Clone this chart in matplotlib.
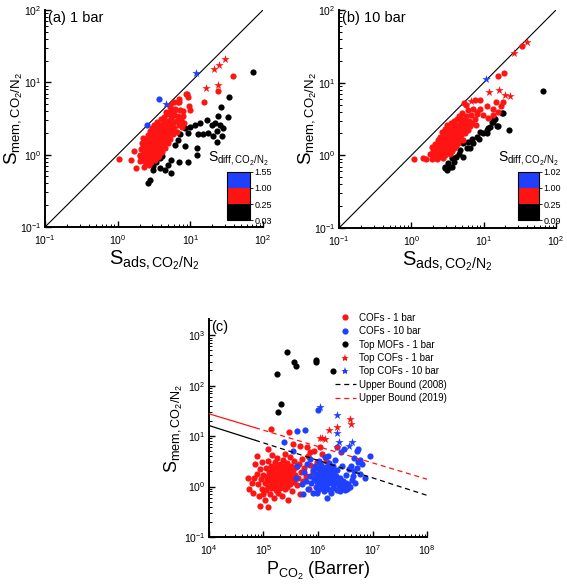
import numpy as np
import matplotlib
matplotlib.use('Agg')
from matplotlib import pyplot as plt
from matplotlib.colors import ListedColormap, BoundaryNorm
from matplotlib.cm import ScalarMappable
from matplotlib.lines import Line2D

plt.rcParams['font.family'] = ['Liberation Sans', 'DejaVu Sans']
plt.rcParams['mathtext.fontset'] = 'custom'
plt.rcParams['mathtext.rm'] = 'Liberation Sans'
plt.rcParams['mathtext.it'] = 'Liberation Sans:italic'
plt.rcParams['mathtext.default'] = 'regular'
plt.rcParams['axes.unicode_minus'] = False

RED = '#ff1414'
BLUE = '#2040ff'

# ---------------- panel (a): 1 bar, (S_ads, S_mem) ----------------
a_red = [
    (1.05, 0.86), (1.52, 0.85), (1.7, 1.12), (1.77, 0.65), (2.3, 0.68), (2.0, 0.95),
    (38.7, 12.1), (23.8, 7.7), (15.3, 5.3), (8.7, 6.8), (9.4, 6.3), (6.8, 5.4),
    (9.7, 4.7), (9.9, 4.2), (7.8, 4.0), (6.1, 4.15), (5.2, 4.5), (5.6, 3.5),
    (8.9, 6.8), (6.9, 5.4), (5.2, 4.9), (5.9, 5.3), (7.0, 5.9), (4.6, 3.85),
    (2.0, 0.82), (2.05, 1.0), (2.1, 1.2), (2.15, 1.45), (2.25, 1.7), (2.2, 0.9),
    (2.3, 1.1), (2.35, 1.3), (2.4, 0.78), (2.45, 1.0), (2.5, 1.55), (2.55, 1.2),
    (2.6, 0.85), (2.6, 1.85), (2.65, 1.05), (2.7, 1.35), (2.7, 0.72), (2.75, 1.6),
    (2.8, 0.95), (2.8, 2.1), (2.85, 1.15), (2.9, 1.4), (2.9, 0.8), (2.95, 1.75),
    (3.0, 1.0), (3.0, 2.3), (3.05, 1.25), (3.1, 0.9), (3.1, 1.55), (3.15, 1.95),
    (3.2, 1.1), (3.2, 2.6), (3.25, 1.35), (3.3, 0.85), (3.3, 1.7), (3.4, 1.0),
    (3.4, 2.1), (3.45, 1.25), (3.5, 1.5), (3.5, 2.8), (3.55, 0.92), (3.6, 1.8),
    (3.6, 1.15), (3.7, 2.4), (3.7, 1.35), (3.75, 1.05), (3.8, 1.6), (3.85, 2.0),
    (3.9, 3.1), (3.9, 1.25), (4.0, 1.45), (4.0, 2.6), (4.1, 1.1), (4.1, 1.9),
    (4.2, 2.2), (4.25, 1.35), (4.3, 3.3), (4.35, 1.65), (4.4, 2.8), (4.5, 1.25),
    (4.5, 2.0), (4.6, 2.45), (4.6, 1.5), (4.7, 3.6), (4.8, 1.8), (4.9, 2.25),
    (5.0, 1.45), (5.0, 2.9), (5.1, 2.0), (5.2, 3.9), (5.3, 1.65), (5.3, 2.5),
    (5.4, 3.2), (5.5, 2.1), (5.7, 2.7), (5.8, 1.9), (5.9, 3.5), (6.0, 2.3),
    (6.2, 4.3), (6.3, 2.9), (6.5, 2.05), (6.7, 3.4), (6.9, 2.6), (7.1, 4.1),
    (7.4, 3.0), (7.6, 2.45), (8.0, 3.4), (8.3, 2.7),
    (2.55, 1.4), (2.75, 1.25), (2.95, 1.1), (3.1, 1.4), (3.25, 1.6), (3.35, 1.2),
    (3.45, 1.8), (3.6, 1.45), (3.75, 1.7), (3.95, 1.55), (4.15, 1.75), (4.4, 1.9),
    (2.85, 1.55), (3.0, 1.7), (3.2, 1.9), (3.5, 2.0), (3.85, 2.25), (4.2, 2.4),
    (4.5, 2.7), (2.4, 1.15), (2.2, 1.3), (2.65, 1.7), (3.05, 2.05), (3.4, 2.4),
    (3.15, 0.95), (2.5, 0.9), (3.65, 1.0),
]
a_black = [
    (73, 13.8), (34, 6.2), (26, 4.5), (33, 3.3), (24, 3.4), (21.8, 2.7), (25.5, 2.6),
    (28, 2.3), (23, 2.1), (20.7, 1.8), (23, 1.5), (19.6, 2.6), (16.7, 3.0),
    (13.5, 2.7), (12.8, 1.9), (15, 1.9), (17.7, 2.0), (11.6, 2.6), (9.4, 2.0),
    (8.4, 2.3), (12.2, 1.23), (12.2, 0.99), (9.4, 0.8), (7.0, 0.8), (5.5, 0.85),
    (5.0, 0.72), (5.5, 0.55), (4.5, 0.61), (3.8, 0.65), (3.4, 0.8), (3.1, 0.61),
    (2.8, 0.45), (2.6, 0.4), (7.2, 1.9), (6.8, 1.6), (8.4, 1.3), (6.1, 1.36),
    (3.8, 0.89), (3.6, 1.1), (3.1, 0.7), (27, 1.8), (9.9, 2.4), (4.1, 0.95),
]
a_blue = [(2.52, 2.61), (3.73, 5.9)]
a_red_star = [(29.5, 20.7), (24.4, 17.1), (21, 15.2), (23.8, 9.2), (16.5, 8.3)]
a_blue_star = [(4.55, 4.94), (11.8, 13.3)]
a_sdiff_labels = ['0.03', '0.25', '1.00', '1.55']

# ---------------- panel (b): 10 bar ----------------
b_red = [
    (1.09, 0.88), (1.47, 0.91), (1.6, 0.9), (1.8, 1.05), (1.9, 0.88), (1.95, 1.3),
    (2.0, 1.15), (2.05, 0.95), (2.1, 1.45), (2.15, 1.05), (2.2, 1.25), (2.25, 0.9),
    (2.3, 1.6), (2.3, 1.1), (2.35, 1.35), (2.4, 0.95), (2.45, 1.2), (2.5, 1.8),
    (2.5, 1.5), (2.55, 1.05), (2.6, 1.3), (2.65, 2.1), (2.7, 0.92), (2.7, 1.6),
    (2.75, 1.15), (2.8, 1.4), (2.85, 1.85), (2.9, 1.0), (2.9, 2.3), (2.95, 1.25),
    (3.0, 1.55), (3.05, 1.1), (3.1, 2.0), (3.1, 1.35), (3.15, 2.6), (3.2, 1.7),
    (3.25, 1.2), (3.3, 1.45), (3.35, 2.2), (3.4, 1.05), (3.4, 1.9), (3.5, 1.3),
    (3.5, 2.8), (3.55, 1.6), (3.6, 2.35), (3.65, 1.15), (3.7, 1.75), (3.75, 2.05),
    (3.8, 1.4), (3.85, 3.0), (3.9, 1.25), (3.95, 1.9), (4.0, 2.5), (4.05, 1.55),
    (4.1, 2.2), (4.2, 1.35), (4.25, 3.2), (4.3, 1.8), (4.4, 2.6), (4.45, 1.5),
    (4.5, 2.1), (4.6, 3.5), (4.65, 1.7), (4.7, 2.4), (4.8, 2.9), (4.9, 1.9),
    (5.0, 2.2), (5.05, 3.8), (5.1, 1.65), (5.2, 2.6), (5.4, 5.3), (5.4, 3.1),
    (5.5, 2.0), (5.6, 2.4), (5.7, 3.5), (5.8, 2.8), (6.0, 2.2), (6.1, 4.2),
    (6.3, 3.0), (6.5, 2.5), (6.7, 3.6), (7.0, 2.8), (7.2, 4.4), (7.5, 3.2),
    (7.8, 2.6), (8.2, 3.7), (7.6, 5.8), (8.9, 5.8), (8.9, 4.4), (8.0, 4.0),
    (5.7, 4.9), (4.7, 3.4), (9.9, 3.6), (11, 4.7), (11.5, 3.3), (13.6, 4.3),
    (13.5, 3.6), (14.8, 5.5), (17.2, 4.7), (18.8, 5.5), (16, 3.9),
    (33.6, 31.8), (19.1, 13.4), (16, 12.4),
    (2.4, 1.4), (2.6, 1.7), (2.8, 1.2), (3.0, 1.9), (3.2, 1.45), (3.4, 1.6),
    (3.6, 1.9), (3.8, 2.2), (3.0, 1.1), (2.7, 1.3), (3.3, 1.8), (3.7, 1.45),
    (4.1, 1.75), (4.3, 2.35), (4.6, 2.0), (4.9, 2.6), (3.5, 2.1), (2.95, 1.7),
    (2.35, 1.05), (3.9, 2.7),
]
b_black = [
    (65.6, 7.65), (22.7, 2.2), (18.8, 3.8), (14.4, 3.2), (12.9, 2.9), (15.2, 2.5),
    (11.6, 2.35), (11.2, 2.2), (9.9, 2.0), (8.9, 2.1), (8.0, 1.8), (6.8, 1.7),
    (6.1, 1.54), (5.2, 1.46), (5.8, 1.25), (4.7, 1.18), (4.2, 0.96), (3.6, 0.91),
    (3.25, 0.78), (2.9, 0.7), (3.4, 0.7), (3.9, 0.82), (7.2, 1.46), (2.9, 0.66),
    (3.6, 0.7), (5.2, 0.96), (6.5, 1.25), (8.5, 1.66), (11, 2.0), (12.2, 2.43),
    (13.5, 2.9), (14, 3.3), (17.8, 3.8), (16, 2.5), (3.1, 0.62), (4.5, 1.05),
]
b_red_star = [(39.4, 36.6), (26.3, 25.8), (12.0, 7.4), (16.5, 7.9), (19.6, 6.7),
              (23.3, 6.5), (6.6, 5.6)]
b_blue_star = [(10.8, 11.1)]
b_sdiff_labels = ['0.09', '0.25', '1.00', '1.02']

# ---------------- panel (c): P_CO2 vs S_mem ----------------
# COFs at 1 bar, P in units of 1e5 Barrer
c_cof1 = [
    (0.53, 1.5), (0.55, 0.89), (0.7, 2.8), (0.75, 1.8), (0.75, 4.1), (1.0, 0.71),
    (0.86, 0.41), (1.22, 0.4), (1.4, 13.9), (2.9, 12.3), (1.23, 5.6), (3.5, 7.0),
    (4.7, 6.5), (6.2, 6.0), (7.1, 4.8), (11, 6.0),
    (0.62, 1.2), (0.65, 0.75), (0.68, 1.5), (0.8, 1.1), (0.82, 0.65), (0.85, 2.2),
    (0.9, 1.4), (0.92, 0.9), (0.95, 3.0), (1.0, 1.7), (1.05, 1.15), (1.05, 0.55),
    (1.1, 2.3), (1.1, 0.85), (1.15, 1.4), (1.2, 1.0), (1.2, 3.2), (1.25, 1.9),
    (1.3, 0.7), (1.3, 1.25), (1.35, 2.6), (1.4, 0.95), (1.4, 1.6), (1.45, 4.2),
    (1.5, 1.1), (1.5, 2.1), (1.55, 0.6), (1.6, 1.35), (1.6, 3.0), (1.65, 1.8),
    (1.7, 0.85), (1.7, 2.4), (1.75, 1.15), (1.8, 1.5), (1.8, 3.6), (1.85, 0.75),
    (1.9, 2.0), (1.95, 1.25), (2.0, 2.8), (2.0, 0.95), (2.05, 1.65), (2.1, 1.05),
    (2.15, 2.2), (2.2, 1.4), (2.2, 0.65), (2.25, 3.3), (2.3, 1.85), (2.35, 1.15),
    (2.4, 2.5), (2.45, 0.9), (2.5, 1.55), (2.5, 4.5), (2.6, 1.2), (2.6, 2.0),
    (2.7, 2.9), (2.75, 1.0), (2.8, 1.7), (2.85, 0.55), (2.9, 2.3), (2.95, 1.35),
    (3.0, 3.8), (3.1, 1.1), (3.1, 1.9), (3.2, 2.6), (3.3, 1.45), (3.4, 0.8),
    (3.5, 2.1), (3.6, 1.25), (3.7, 3.2), (3.8, 1.7), (4.0, 2.4), (4.1, 1.05),
    (4.3, 1.5), (4.5, 2.8), (4.6, 0.7), (4.8, 1.9), (5.0, 3.5), (5.3, 1.3),
    (5.6, 2.3), (6.0, 1.6), (6.5, 4.0), (6.8, 0.9), (7.2, 2.7), (8.0, 1.9),
    (8.5, 5.0), (9.5, 3.0), (10.5, 2.2), (12, 4.5), (14, 3.2), (16, 2.6),
    (1.3, 1.5), (1.5, 1.7), (1.7, 1.3), (1.9, 1.6), (2.1, 1.85), (2.3, 1.3),
    (2.5, 2.2), (1.6, 1.0), (2.0, 1.2), (2.4, 1.7), (1.8, 2.3), (2.7, 1.5),
    (1.4, 2.0), (3.0, 1.6), (1.2, 1.6), (2.2, 2.6),
]
# COFs at 10 bar, P in units of 1e6 Barrer
c_cof10 = [
    (0.24, 7.5), (0.42, 12.9), (0.58, 13.3), (0.98, 33), (9.0, 4.1), (0.35, 5.1),
    (0.42, 2.5), (0.4, 1.5), (0.53, 0.71), (0.95, 0.76), (5.5, 5.6), (5.9, 3.3),
    (4.0, 2.5), (4.6, 2.0), (4.3, 1.6), (2.6, 4.9), (1.55, 4.1), (2.2, 6.0),
    (3.0, 5.6), (5.1, 5.0), (5.5, 3.0),
    (0.5, 1.1), (0.55, 1.9), (0.6, 1.3), (0.62, 2.8), (0.65, 0.9), (0.7, 1.6),
    (0.72, 3.5), (0.75, 1.15), (0.8, 2.1), (0.8, 0.75), (0.85, 1.4), (0.88, 2.6),
    (0.9, 1.0), (0.92, 1.8), (0.95, 1.25), (1.0, 2.3), (1.0, 0.85), (1.05, 1.55),
    (1.05, 3.2), (1.1, 1.1), (1.1, 1.9), (1.15, 1.35), (1.15, 2.7), (1.2, 0.95),
    (1.2, 1.65), (1.25, 2.15), (1.25, 1.2), (1.3, 0.8), (1.3, 1.45), (1.35, 1.85),
    (1.35, 3.8), (1.4, 1.05), (1.4, 2.4), (1.45, 1.3), (1.45, 0.6), (1.5, 1.7),
    (1.5, 0.9), (1.55, 2.0), (1.6, 1.15), (1.6, 2.9), (1.65, 1.5), (1.7, 0.75),
    (1.7, 2.2), (1.75, 1.3), (1.8, 1.8), (1.85, 0.95), (1.9, 2.5), (1.95, 1.4),
    (2.0, 1.1), (2.05, 3.4), (2.1, 1.65), (2.2, 2.1), (2.2, 0.85), (2.3, 1.25),
    (2.4, 1.0), (2.5, 1.5), (2.5, 0.8), (2.6, 1.1), (2.7, 2.6), (2.8, 0.95),
    (2.9, 1.3), (3.0, 1.05), (3.1, 0.85), (3.2, 1.2), (3.3, 1.7), (3.4, 0.9),
    (3.5, 1.1), (3.7, 2.2), (3.9, 1.0), (4.2, 1.35), (4.5, 3.6), (4.8, 1.2),
    (5.2, 2.3), (5.8, 1.8), (6.5, 2.8), (7.2, 1.5),
    (1.1, 1.5), (1.2, 2.0), (1.3, 1.7), (1.4, 1.55), (1.5, 1.25), (1.6, 1.8),
    (1.0, 1.3), (0.9, 1.6), (1.7, 1.6), (1.8, 1.2), (1.25, 1.0), (1.45, 2.0),
    (1.15, 1.75), (2.0, 1.9), (1.35, 1.15),
]
# top materials, P in units of 1e6 Barrer
c_top_mof1 = [(0.27, 466), (0.36, 294), (0.39, 245), (0.92, 318), (0.92, 290),
              (1.9, 192), (0.18, 168), (0.207, 43.7), (0.182, 29.8)]
c_top_cof1 = [(3.9, 22), (4.0, 17), (2.26, 15.5), (1.6, 13.5), (1.17, 9.2),
              (1.34, 8.8), (1.1, 9.3), (2.2, 6.2)]
c_top_cof10 = [(1.09, 38.6), (2.26, 26.4), (2.2, 11.4), (2.4, 7.5), (4.15, 7.8),
               (3.75, 6.5)]

# Robeson upper bounds (solid part, then dashed part)
bound_p = [1e4, 7e4, 1e8]
bound_2008 = [16.2, 8.3, 0.67]
bound_2019 = [27.7, 14.7, 1.4]


def xy(pairs, scale=1.0):
    arr = np.array(pairs, dtype=float)
    return arr[:, 0] * scale, arr[:, 1]


def style_axes(ax):
    for side in ['top', 'right']:
        ax.spines[side].set_visible(False)
    for side in ['left', 'bottom']:
        ax.spines[side].set_linewidth(1.4)
    ax.tick_params(which='major', direction='in', length=4, width=1.0,
                   labelsize=7.5, pad=2.5)
    ax.tick_params(which='minor', direction='in', length=2, width=0.7)
    ax.tick_params(axis='x', which='major', pad=4.5)


def sdiff_bar(rect, labels):
    cax = fig.add_axes(rect)
    cmap = ListedColormap(['black', RED, BLUE])
    bounds = [0, 1, 2, 3]
    norm = BoundaryNorm(bounds, cmap.N)
    cb = fig.colorbar(ScalarMappable(norm=norm, cmap=cmap), cax=cax, ticks=bounds)
    cb.set_ticklabels(labels)
    cb.outline.set_linewidth(0.8)
    cax.tick_params(length=2, width=0.6, labelsize=6.5, pad=1)
    cax.set_title(r'$S_{diff,CO_2/N_2}$', fontsize=10, pad=7)


fig = plt.figure(figsize=(5.67, 5.87), dpi=100)

ms = 20
star = 40
ylab = r'$S_{mem,CO_2/N_2}$'
xlab = r'$S_{ads,CO_2/N_2}$'

panels = [
    ([0.0794, 0.6133, 0.3845, 0.3697], '(a) 1 bar', a_black, a_red, a_blue,
     a_red_star, a_blue_star, [0.4004, 0.6252, 0.0406, 0.0818], a_sdiff_labels),
    ([0.5979, 0.6116, 0.3827, 0.3714], '(b) 10 bar', b_black, b_red, [],
     b_red_star, b_blue_star, [0.9136, 0.6252, 0.0370, 0.0818], b_sdiff_labels),
]
diag = [0.1, 100]
for rect, title, blk, red, blu, rstar, bstar, crect, clabels in panels:
    ax = fig.add_axes(rect)
    ax.set_xscale('log')
    ax.set_yscale('log')
    ax.plot(diag, diag, color='black', lw=0.8, zorder=1)
    ax.scatter(*xy(blk), s=ms, color='black', lw=0, zorder=2)
    ax.scatter(*xy(red), s=ms, color=RED, lw=0, zorder=3)
    if blu:
        ax.scatter(*xy(blu), s=ms, color=BLUE, lw=0, zorder=4)
    ax.scatter(*xy(rstar), s=star, marker='*', color=RED, lw=0, zorder=4)
    ax.scatter(*xy(bstar), s=star, marker='*', color=BLUE, lw=0, zorder=4)
    ax.set_xlim(0.1, 100)
    ax.set_ylim(0.1, 100)
    style_axes(ax)
    ax.set_xlabel(xlab, fontsize=14.5, labelpad=1)
    ax.set_ylabel(ylab, fontsize=13.5)
    ax.yaxis.set_label_coords(-0.092, 0.5)
    ax.text(0.015, 0.995, title, transform=ax.transAxes, ha='left', va='top',
            fontsize=10.5)
    sdiff_bar(crect, clabels)

# panel (c)
axc = fig.add_axes([0.3686, 0.0852, 0.3845, 0.3714])
axc.set_xscale('log')
axc.set_yscale('log')
axc.scatter(*xy(c_cof1, 1e5), s=ms, color=RED, lw=0, zorder=2)
axc.scatter(*xy(c_cof10, 1e6), s=ms, color=BLUE, lw=0, zorder=3)
axc.scatter(*xy(c_top_mof1, 1e6), s=ms, color='black', lw=0, zorder=4)
axc.scatter(*xy(c_top_cof1, 1e6), s=star, marker='*', color=RED, lw=0, zorder=4)
axc.scatter(*xy(c_top_cof10, 1e6), s=star, marker='*', color=BLUE, lw=0, zorder=4)
for vals, col in [(bound_2008, 'black'), (bound_2019, RED)]:
    axc.plot(bound_p[:2], vals[:2], color=col, lw=0.9, zorder=5)
    axc.plot(bound_p[1:], vals[1:], color=col, lw=0.9, ls=(0, (4, 3)), zorder=5)
axc.set_xlim(1e4, 1e8)
axc.set_ylim(0.1, 2100)
axc.set_xticks([1e4, 1e5, 1e6, 1e7, 1e8])
axc.set_yticks([0.1, 1, 10, 100, 1000])
style_axes(axc)
axc.set_xlabel(r'$P_{CO_2}$ (Barrer)', fontsize=13, labelpad=2)
axc.set_ylabel(ylab, fontsize=13)
axc.yaxis.set_label_coords(-0.112, 0.5)
axc.text(0.01, 0.995, '(c)', transform=axc.transAxes, ha='left', va='top',
         fontsize=10.5)

handles = [
    Line2D([], [], ls='none', marker='o', ms=4.5, mew=0, color=RED),
    Line2D([], [], ls='none', marker='o', ms=4.5, mew=0, color=BLUE),
    Line2D([], [], ls='none', marker='o', ms=4.5, mew=0, color='black'),
    Line2D([], [], ls='none', marker='*', ms=6, mew=0, color=RED),
    Line2D([], [], ls='none', marker='*', ms=6, mew=0, color=BLUE),
    Line2D([], [], color='black', lw=0.9, ls=(0, (4, 3))),
    Line2D([], [], color=RED, lw=0.9, ls=(0, (4, 3))),
]
labels = ['COFs - 1 bar', 'COFs - 10 bar', 'Top MOFs - 1 bar', 'Top COFs - 1 bar',
          'Top COFs - 10 bar', 'Upper Bound (2008)', 'Upper Bound (2019)']
fig.legend(handles, labels, loc='upper left', bbox_to_anchor=(0.59, 0.467),
           frameon=False, fontsize=7, handlelength=2.2, handletextpad=0.3,
           borderpad=0, borderaxespad=0, labelspacing=0.35)

fig.savefig('out.png', dpi=100)
